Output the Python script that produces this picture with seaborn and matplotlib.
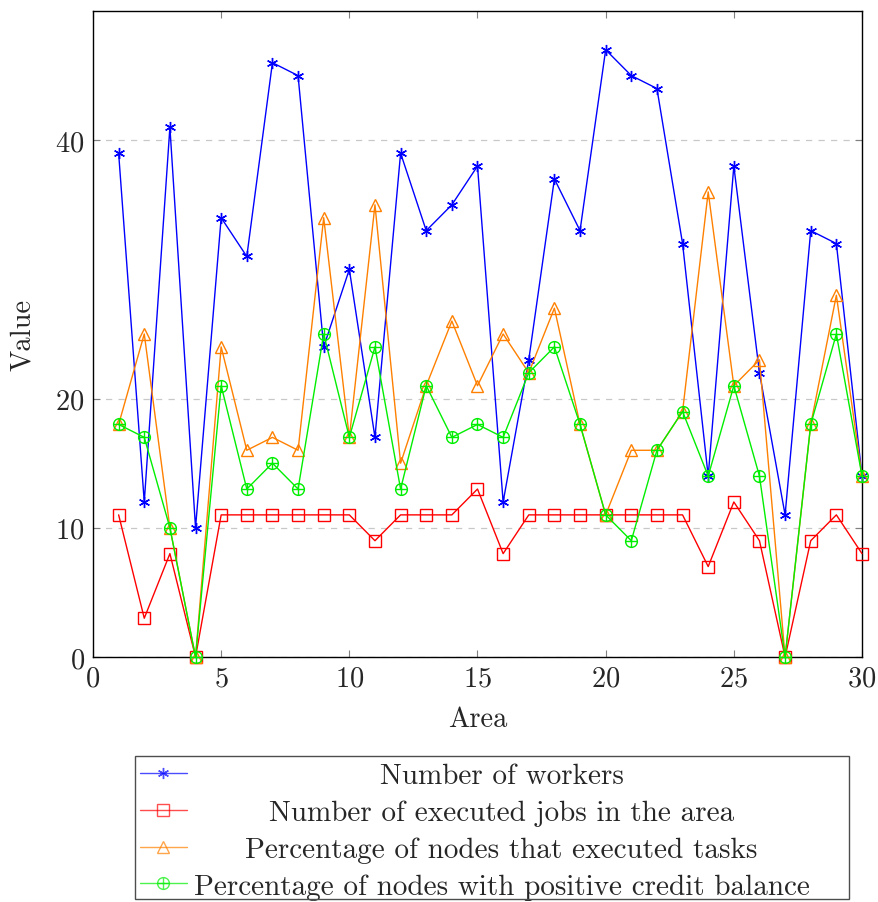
import matplotlib
matplotlib.use("Agg")
import matplotlib.pyplot as plt
from matplotlib.path import Path
from matplotlib.patches import Rectangle
from matplotlib.transforms import Affine2D
import pandas as pd
import seaborn as sns

areas = list(range(1, 31))
workers = [39, 12, 41, 10, 34, 31, 46, 45, 24, 30, 17, 39, 33, 35, 38,
           12, 23, 37, 33, 47, 45, 44, 32, 14, 38, 22, 11, 33, 32, 14]
jobs = [11, 3, 8, 0, 11, 11, 11, 11, 11, 11, 9, 11, 11, 11, 13,
        8, 11, 11, 11, 11, 11, 11, 11, 7, 12, 9, 0, 9, 11, 8]
pct_executed = [18, 25, 10, 0, 24, 16, 17, 16, 34, 17, 35, 15, 21, 26, 21,
                25, 22, 27, 18, 11, 16, 16, 19, 36, 21, 23, 0, 18, 28, 14]
pct_credit = [18, 17, 10, 0, 21, 13, 15, 13, 25, 17, 24, 13, 21, 17, 18,
              17, 22, 24, 18, 11, 9, 16, 19, 14, 21, 14, 0, 18, 25, 14]

labels = ["Number of workers",
          "Number of executed jobs in the area",
          "Percentage of nodes that executed tasks",
          "Percentage of nodes with positive credit balance"]
x_ticks = [0, 5, 10, 15, 20, 25, 30]
y_ticks = [0, 10, 20, 40]

sns.set_style("white")
plt.rcParams["font.family"] = ["cmr10", "DejaVu Serif"]
plt.rcParams["axes.formatter.use_mathtext"] = True
plt.rcParams["mathtext.fontset"] = "cm"

FS = 20.5
W, H = 879, 903

df = pd.DataFrame({"Area": areas, "workers": workers, "jobs": jobs,
                   "executed": pct_executed, "credit": pct_credit})

# circle-with-plus marker
oplus = Path.make_compound_path(
    Path.unit_circle(),
    Path([(-1, 0), (1, 0)], [Path.MOVETO, Path.LINETO]),
    Path([(0, -1), (0, 1)], [Path.MOVETO, Path.LINETO]),
)

series = [
    ("workers", "#0000ff", (6, 2, 0), 8),
    ("jobs", "#ff0000", "s", 8),
    ("executed", "#ff8000", "^", 8),
    ("credit", "#00ee00", oplus, 8.5),
]

fig = plt.figure(figsize=(W / 100, H / 100), dpi=100)
ax = fig.add_axes([93 / W, 1 - 658 / H, (862 - 93) / W, (658 - 12) / H])

for (col, color, marker, ms), lab in zip(series, labels):
    sns.lineplot(data=df, x="Area", y=col, ax=ax, color=color, marker=marker,
                 markersize=ms, markerfacecolor="none", markeredgecolor=color,
                 markeredgewidth=1.0, linewidth=1.0, label=lab, legend=False,
                 clip_on=False, zorder=3)

ax.set_xlim(0, 30)
ax.set_ylim(0, 50)
ax.set_xticks(x_ticks)
ax.set_yticks(y_ticks)
ax.yaxis.grid(True, linestyle=(0, (5, 5)), color="#c8c8c8", linewidth=0.9)
ax.xaxis.grid(False)
ax.tick_params(direction="in", length=5, color="0.5", labelsize=FS,
               top=True, right=True, bottom=True, left=True, pad=6)
for s in ax.spines.values():
    s.set_color("black")
    s.set_linewidth(1.0)
ax.set_xlabel("Area", fontsize=FS, labelpad=10)
ax.set_ylabel("Value", fontsize=FS, labelpad=14)

# legend below the axes, with its own frame
box_l, box_r, box_t, box_b = 135, 849, 757, 900
fig.patches.append(Rectangle((box_l / W, 1 - box_b / H),
                             (box_r - box_l) / W, (box_b - box_t) / H,
                             transform=fig.transFigure, fill=False,
                             edgecolor="0.3", linewidth=1.0))
leg = ax.legend(loc="upper left", bbox_to_anchor=(140 / W, 1 - 764 / H),
                bbox_transform=fig.transFigure, fontsize=21, frameon=False,
                handlelength=1.6, handletextpad=0.25, labelspacing=0.35,
                borderpad=0.0, borderaxespad=0)
for h in leg.legend_handles:
    h.set_alpha(0.7)

# centre each legend label within the text column
fig.canvas.draw()
texts = leg.get_texts()
boxes = [t.get_window_extent() for t in texts]
cx = (195 + 808) / 2
for t, b in zip(texts, boxes):
    dx = cx - (b.x0 + b.x1) / 2
    t.set_transform(t.get_transform() + Affine2D().translate(dx, 0))

fig.savefig("out.png", dpi=100)
